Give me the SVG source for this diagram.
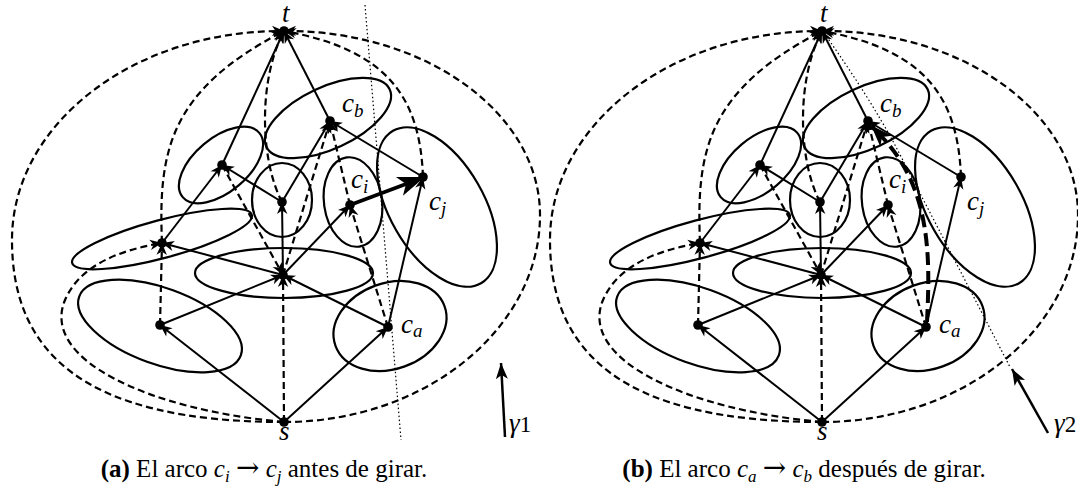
<svg xmlns="http://www.w3.org/2000/svg" width="1078" height="491" viewBox="0 0 1078 491">
<style>
.e{fill:none;stroke:#000;stroke-width:2.2}
.s{fill:none;stroke:#000;stroke-width:2}
.d{fill:none;stroke:#000;stroke-width:2.2;stroke-dasharray:7 4}
.dot{fill:none;stroke:#000;stroke-width:1.2;stroke-dasharray:1.5 2.5}
.n{fill:#000}
.lbl{font-family:"Liberation Serif",serif;font-style:italic;font-size:27px}
.sub{font-size:19px}
.cap{font-family:"Liberation Serif",serif;font-size:25px}
.it{font-style:italic}
.b{font-weight:bold}
.ar{font-family:"DejaVu Serif",serif;font-size:28px}
</style>
<defs>
<marker id="a" viewBox="-13 -6 14 12" refX="0" refY="0" markerWidth="14" markerHeight="12" markerUnits="userSpaceOnUse" orient="auto"><path d="M0,0 L-12,-5.2 L-8.5,0 L-12,5.2 z" fill="#000"/></marker>
<marker id="big" viewBox="-28 -11 30 22" refX="-20" refY="0" markerWidth="30" markerHeight="22" markerUnits="userSpaceOnUse" orient="auto"><path d="M0,0 L-27,-10 L-20,0 L-27,10 z" fill="#000"/></marker>
<marker id="bigb" viewBox="-24 -9 26 18" refX="-16" refY="0" markerWidth="26" markerHeight="18" markerUnits="userSpaceOnUse" orient="auto"><path d="M0,0 L-22,-8 L-16,0 L-22,8 z" fill="#000"/></marker>
<marker id="g" viewBox="-17 -7 18 14" refX="0" refY="0" markerWidth="18" markerHeight="14" markerUnits="userSpaceOnUse" orient="auto"><path d="M0,0 L-16,-6 L-12,0 L-16,6 z" fill="#000"/></marker>
</defs>

<g id="panel-a">
 <g id="a-regions">
  <ellipse class="e" cx="221" cy="165" rx="50" ry="27" transform="rotate(-40 221 165)"/>
  <ellipse class="e" cx="282" cy="200" rx="30" ry="37"/>
  <ellipse class="e" cx="328" cy="118" rx="68" ry="31" transform="rotate(-25 328 118)"/>
  <ellipse class="e" cx="353" cy="202" rx="29" ry="45" transform="rotate(-8 353 202)"/>
  <ellipse class="e" cx="437" cy="207" rx="88" ry="47" transform="rotate(60 437 207)"/>
  <ellipse class="e" cx="390" cy="326" rx="58" ry="43" transform="rotate(-20 390 326)"/>
  <ellipse class="e" cx="284" cy="273" rx="89" ry="25"/>
  <ellipse class="e" cx="162" cy="239" rx="93" ry="19" transform="rotate(-15 162 239)"/>
  <ellipse class="e" cx="160" cy="326" rx="86" ry="38" transform="rotate(20 160 326)"/>
 </g>
 <g id="a-connectors">
  <path class="s" marker-end="url(#a)" d="M284,422 L160,325"/>
  <path class="s" marker-end="url(#a)" d="M284,422 L388,327"/>
  <path class="s" marker-end="url(#a)" d="M160,325 L283,275"/>
  <path class="s" marker-end="url(#a)" d="M388,327 L283,275"/>
  <path class="s" marker-end="url(#a)" d="M283,275 L162,243"/>
  <path class="s" marker-end="url(#a)" d="M283,275 L282,202"/>
  <path class="s" marker-end="url(#a)" d="M283,275 L350,205"/>
  <path class="s" marker-end="url(#a)" d="M162,243 L222,165"/>
  <path class="s" marker-end="url(#a)" d="M282,202 L222,165"/>
  <path class="s" marker-end="url(#a)" d="M282,202 L330,121"/>
  <path class="s" marker-end="url(#a)" d="M222,165 L284,31"/>
  <path class="s" marker-end="url(#a)" d="M330,121 L284,31"/>
  <path class="s" marker-end="url(#a)" d="M423,177 L330,121"/>
  <path class="s" marker-end="url(#a)" d="M388,327 L423,177"/>
  <path class="d" marker-end="url(#a)" d="M284,422 C80,422 12,350 12,240 C12,124 134,30 284,31"/>
  <path class="d" marker-end="url(#a)" d="M284,422 C425,422 540,329 540,215 C540,113 425,30 284,31"/>
  <path class="d" marker-end="url(#a)" d="M284,422 C150,410 40,360 65,300 C80,265 120,250 162,243"/>
  <path class="d" marker-end="url(#a)" d="M284,422 L283,275"/>
  <path class="d" marker-end="url(#a)" d="M160,325 L162,243"/>
  <path class="d" marker-end="url(#a)" d="M162,243 C158,150 170,90 284,31"/>
  <path class="d" marker-end="url(#a)" d="M222,165 L283,275"/>
  <path class="d" marker-end="url(#a)" d="M282,202 C260,160 258,80 284,31"/>
  <path class="d" marker-end="url(#a)" d="M283,275 L330,121"/>
  <path class="d" marker-end="url(#a)" d="M350,205 L330,121"/>
  <path class="d" marker-end="url(#a)" d="M388,327 L350,205"/>
  <path class="d" marker-end="url(#a)" d="M423,177 C420,100 390,50 284,31"/>
  <path class="s" style="stroke-width:3.6" marker-end="url(#big)" d="M350,205 L406,184"/>
  <path class="dot" d="M365,5 L401,440"/>
  <path class="s" style="stroke-width:2.5" marker-end="url(#g)" d="M505,437 L501,363"/>
 </g>
 <g id="a-t"><circle class="n" cx="284" cy="31" r="4.8"/><text class="lbl" x="282" y="22">t</text></g>
 <g id="a-cb"><circle class="n" cx="330" cy="121" r="4.8"/><text class="lbl" x="342" y="112">c<tspan class="sub" dy="5">b</tspan></text></g>
 <g id="a-ul"><circle class="n" cx="222" cy="165" r="4.8"/></g>
 <g id="a-c"><circle class="n" cx="282" cy="202" r="4.8"/></g>
 <g id="a-ci"><circle class="n" cx="350" cy="205" r="4.8"/><text class="lbl" x="351" y="188">c<tspan class="sub" dy="5">i</tspan></text></g>
 <g id="a-cj"><circle class="n" cx="423" cy="177" r="4.8"/><text class="lbl" x="429" y="210">c<tspan class="sub" dy="5">j</tspan></text></g>
 <g id="a-l"><circle class="n" cx="162" cy="243" r="4.8"/></g>
 <g id="a-cbot"><circle class="n" cx="283" cy="275" r="4.8"/></g>
 <g id="a-bl"><circle class="n" cx="160" cy="325" r="4.8"/></g>
 <g id="a-ca"><circle class="n" cx="388" cy="327" r="4.8"/><text class="lbl" x="401" y="333">c<tspan class="sub" dy="4">a</tspan></text></g>
 <g id="a-s"><circle class="n" cx="284" cy="422" r="4.8"/><text class="lbl" x="279" y="440">s</text></g>
 <g id="a-gamma"><text class="lbl" x="509" y="432">γ<tspan style="font-style:normal;font-size:23px">1</tspan></text></g>
 <text class="cap" x="264" y="477" text-anchor="middle"><tspan class="b">(a)</tspan> El arco <tspan class="it">c</tspan><tspan class="it" font-size="17" dy="5">i</tspan><tspan dy="-5"> </tspan><tspan class="ar">→</tspan> <tspan class="it">c</tspan><tspan class="it" font-size="17" dy="5">j</tspan><tspan dy="-5"> antes de girar.</tspan></text>
</g>

<g id="panel-b" transform="translate(538,0)">
 <g id="b-regions">
  <ellipse class="e" cx="221" cy="165" rx="50" ry="27" transform="rotate(-40 221 165)"/>
  <ellipse class="e" cx="282" cy="200" rx="30" ry="37"/>
  <ellipse class="e" cx="328" cy="118" rx="68" ry="31" transform="rotate(-25 328 118)"/>
  <ellipse class="e" cx="353" cy="202" rx="29" ry="45" transform="rotate(-8 353 202)"/>
  <ellipse class="e" cx="437" cy="207" rx="88" ry="47" transform="rotate(60 437 207)"/>
  <ellipse class="e" cx="390" cy="326" rx="58" ry="43" transform="rotate(-20 390 326)"/>
  <ellipse class="e" cx="284" cy="273" rx="89" ry="25"/>
  <ellipse class="e" cx="162" cy="239" rx="93" ry="19" transform="rotate(-15 162 239)"/>
  <ellipse class="e" cx="160" cy="326" rx="86" ry="38" transform="rotate(20 160 326)"/>
 </g>
 <g id="b-connectors">
  <path class="s" marker-end="url(#a)" d="M284,422 L160,325"/>
  <path class="s" marker-end="url(#a)" d="M284,422 L388,327"/>
  <path class="s" marker-end="url(#a)" d="M160,325 L283,275"/>
  <path class="s" marker-end="url(#a)" d="M388,327 L283,275"/>
  <path class="s" marker-end="url(#a)" d="M283,275 L162,243"/>
  <path class="s" marker-end="url(#a)" d="M283,275 L282,202"/>
  <path class="s" marker-end="url(#a)" d="M283,275 L350,205"/>
  <path class="s" marker-end="url(#a)" d="M162,243 L222,165"/>
  <path class="s" marker-end="url(#a)" d="M282,202 L222,165"/>
  <path class="s" marker-end="url(#a)" d="M282,202 L330,121"/>
  <path class="s" marker-end="url(#a)" d="M222,165 L284,31"/>
  <path class="s" marker-end="url(#a)" d="M330,121 L284,31"/>
  <path class="s" marker-end="url(#a)" d="M423,177 L330,121"/>
  <path class="s" marker-end="url(#a)" d="M388,327 L423,177"/>
  <path class="d" marker-end="url(#a)" d="M284,422 C80,422 12,350 12,240 C12,124 134,30 284,31"/>
  <path class="d" marker-end="url(#a)" d="M284,422 C425,422 540,329 540,215 C540,113 425,30 284,31"/>
  <path class="d" marker-end="url(#a)" d="M284,422 C150,410 40,360 65,300 C80,265 120,250 162,243"/>
  <path class="d" marker-end="url(#a)" d="M284,422 L283,275"/>
  <path class="d" marker-end="url(#a)" d="M160,325 L162,243"/>
  <path class="d" marker-end="url(#a)" d="M162,243 C158,150 170,90 284,31"/>
  <path class="d" marker-end="url(#a)" d="M222,165 L283,275"/>
  <path class="d" marker-end="url(#a)" d="M282,202 C260,160 258,80 284,31"/>
  <path class="d" marker-end="url(#a)" d="M283,275 L330,121"/>
  <path class="d" marker-end="url(#a)" d="M350,205 L330,121"/>
  <path class="d" marker-end="url(#a)" d="M388,327 L350,205"/>
  <path class="d" marker-end="url(#a)" d="M423,177 C420,100 390,50 284,31"/>
  <path class="d" style="stroke-width:4;stroke-dasharray:13 6" marker-end="url(#bigb)" d="M389,322 C392,260 394,190 344,137"/>
  <path class="dot" d="M286,33 Q330,95 357,145 L472,367"/>
  <path class="s" style="stroke-width:2.5" marker-end="url(#g)" d="M510,433 L474,369"/>
 </g>
 <g id="b-t"><circle class="n" cx="284" cy="31" r="4.8"/><text class="lbl" x="282" y="22">t</text></g>
 <g id="b-cb"><circle class="n" cx="330" cy="121" r="4.8"/><text class="lbl" x="342" y="112">c<tspan class="sub" dy="5">b</tspan></text></g>
 <g id="b-ul"><circle class="n" cx="222" cy="165" r="4.8"/></g>
 <g id="b-c"><circle class="n" cx="282" cy="202" r="4.8"/></g>
 <g id="b-ci"><circle class="n" cx="350" cy="205" r="4.8"/><text class="lbl" x="351" y="188">c<tspan class="sub" dy="5">i</tspan></text></g>
 <g id="b-cj"><circle class="n" cx="423" cy="177" r="4.8"/><text class="lbl" x="429" y="210">c<tspan class="sub" dy="5">j</tspan></text></g>
 <g id="b-l"><circle class="n" cx="162" cy="243" r="4.8"/></g>
 <g id="b-cbot"><circle class="n" cx="283" cy="275" r="4.8"/></g>
 <g id="b-bl"><circle class="n" cx="160" cy="325" r="4.8"/></g>
 <g id="b-ca"><circle class="n" cx="388" cy="327" r="4.8"/><text class="lbl" x="401" y="333">c<tspan class="sub" dy="4">a</tspan></text></g>
 <g id="b-s"><circle class="n" cx="284" cy="422" r="4.8"/><text class="lbl" x="279" y="440">s</text></g>
 <g id="b-gamma"><text class="lbl" x="516" y="432">γ<tspan style="font-style:normal;font-size:23px">2</tspan></text></g>
 <text class="cap" x="266" y="477" text-anchor="middle"><tspan class="b">(b)</tspan> El arco <tspan class="it">c</tspan><tspan class="it" font-size="17" dy="5">a</tspan><tspan dy="-5"> </tspan><tspan class="ar">→</tspan> <tspan class="it">c</tspan><tspan class="it" font-size="17" dy="5">b</tspan><tspan dy="-5"> después de girar.</tspan></text>
</g>
</svg>
